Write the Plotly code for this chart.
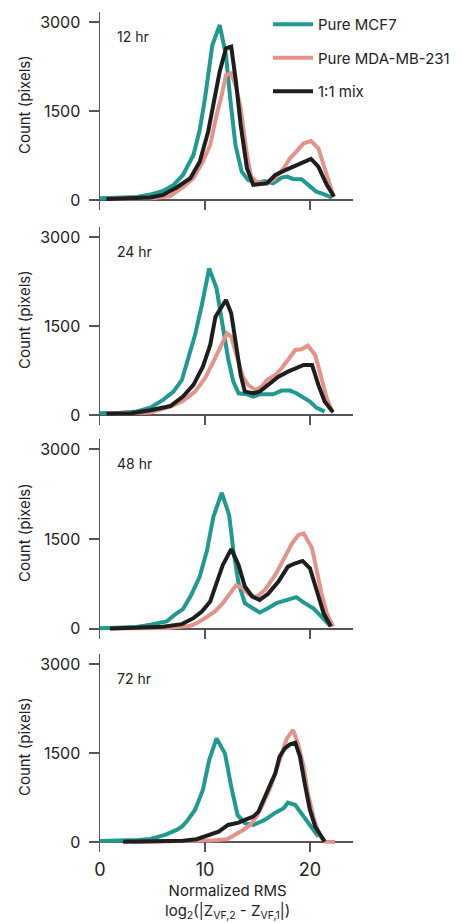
import plotly.graph_objects as go

# ---------------- data ----------------
panel_labels = ["12 hr", "24 hr", "48 hr", "72 hr"]
series_names = ["Pure MCF7", "Pure MDA-MB-231", "1:1 mix"]

mcf7_12_x = [0, 2, 3.5, 4.8, 6.0, 7.0, 7.9, 8.9, 9.5, 10.0, 10.5, 10.7, 11.4, 12.0, 12.4, 12.9, 13.5, 14.1, 14.9, 15.7, 16.5, 17.3, 17.8, 18.4, 19.2, 20.0, 20.6, 21.3, 22.1]
mcf7_12_y = [28, 35, 50, 90, 150, 250, 421, 758, 1180, 1713, 2300, 2610, 2950, 2440, 1714, 927, 477, 337, 281, 320, 281, 376, 393, 354, 348, 225, 140, 96, 39]
mda_12_x = [0.6, 3, 5, 6.7, 7.9, 8.9, 9.8, 10.5, 11.1, 11.6, 12.0, 12.5, 12.95, 13.4, 14.0, 14.4, 14.9, 15.7, 16.5, 17.5, 18.1, 18.7, 19.4, 20.1, 20.8, 21.4, 22.2]
mda_12_y = [20, 22, 30, 65, 215, 365, 645, 927, 1432, 1770, 2107, 2135, 1910, 1545, 758, 393, 309, 281, 337, 534, 702, 814, 955, 994, 871, 534, 84]
mix_12_x = [0.6, 3, 4.8, 6.0, 7.3, 8.6, 9.5, 10.3, 10.95, 11.4, 12.0, 12.5, 12.95, 13.4, 14.0, 14.6, 15.9, 16.7, 17.5, 18.4, 19.4, 20.1, 20.8, 21.6, 22.3]
mix_12_y = [17, 22, 40, 84, 210, 365, 645, 1150, 1713, 2162, 2556, 2584, 1994, 1264, 534, 253, 281, 421, 489, 562, 645, 691, 562, 253, 56]

mcf7_24_x = [0, 2, 3.5, 4.8, 6.0, 7.0, 7.8, 8.4, 9.05, 9.7, 10.4, 11.1, 11.7, 12.2, 12.7, 13.2, 14.0, 14.6, 15.2, 16.5, 17.3, 18.1, 18.7, 19.4, 20.0, 20.6, 21.4]
mcf7_24_y = [30, 35, 60, 123, 253, 393, 590, 955, 1348, 1854, 2472, 2135, 1517, 955, 562, 365, 348, 309, 348, 348, 410, 410, 365, 281, 225, 123, 56]
mda_24_x = [0.6, 3, 4.8, 6.7, 7.9, 9.05, 10.0, 10.8, 11.6, 12.1, 12.5, 13.1, 13.6, 14.1, 14.8, 15.4, 15.9, 16.7, 17.3, 17.9, 18.6, 19.2, 19.8, 20.5, 21.1, 21.6, 22.1]
mda_24_y = [20, 25, 40, 140, 236, 393, 618, 899, 1180, 1376, 1320, 955, 646, 506, 421, 477, 590, 674, 787, 927, 1095, 1107, 1168, 1011, 618, 281, 67]
mix_24_x = [0.6, 3, 4.8, 6.7, 7.9, 8.9, 9.8, 10.5, 11.0, 11.5, 12.0, 12.5, 13.0, 13.4, 13.8, 14.6, 15.2, 16.0, 17.0, 17.9, 18.7, 19.4, 20.2, 20.8, 21.4, 22.2]
mix_24_y = [20, 30, 80, 150, 309, 506, 815, 1180, 1657, 1798, 1938, 1714, 1180, 674, 393, 365, 393, 506, 646, 730, 797, 843, 843, 506, 225, 45]

mcf7_48_x = [0, 2, 3.5, 4.8, 6.35, 7.1, 7.9, 8.7, 9.5, 10.2, 10.8, 11.6, 12.3, 12.7, 13.2, 13.8, 15.2, 16.0, 16.8, 17.6, 18.7, 19.5, 20.3, 21.1, 21.9]
mcf7_48_y = [10, 15, 30, 67, 122, 233, 328, 567, 872, 1317, 1872, 2272, 1900, 1317, 762, 428, 272, 345, 428, 472, 528, 428, 345, 205, 55]
mda_48_x = [1, 4, 6.5, 8.6, 9.2, 10.0, 10.95, 11.7, 12.4, 12.95, 13.5, 14.1, 14.9, 15.7, 16.7, 17.5, 18.3, 18.9, 19.4, 20.2, 20.6, 21.1, 21.6, 22.2]
mda_48_y = [5, 8, 15, 50, 95, 178, 289, 428, 583, 722, 695, 583, 528, 650, 900, 1178, 1428, 1567, 1595, 1345, 983, 595, 262, 38]
mix_48_x = [0.95, 4, 6.0, 7.8, 8.9, 9.7, 10.5, 11.1, 11.7, 12.5, 13.2, 13.8, 14.5, 15.2, 16.0, 17.0, 17.9, 18.6, 19.3, 20.0, 20.6, 21.3, 22.0]
mix_48_y = [5, 15, 35, 78, 178, 289, 456, 762, 1067, 1330, 1067, 706, 539, 483, 583, 789, 1039, 1095, 1134, 1011, 650, 262, 38]

mcf7_72_x = [0, 2, 3.65, 4.8, 6.2, 7.3, 7.8, 8.25, 9.05, 9.8, 10.4, 11.1, 11.9, 12.5, 13.1, 13.8, 14.6, 15.7, 16.7, 17.5, 17.9, 18.6, 19.5, 20.3, 20.8]
mcf7_72_y = [15, 20, 34, 50, 118, 202, 258, 343, 539, 876, 1382, 1747, 1494, 932, 455, 315, 286, 371, 494, 568, 662, 623, 399, 202, 90]
mda_72_x = [3, 7.9, 10.5, 12.1, 12.9, 13.65, 14.3, 14.9, 15.55, 16.2, 16.8, 17.3, 17.8, 18.4, 18.9, 19.4, 19.8, 20.4, 20.9, 21.4, 22.4]
mda_72_y = [0, 5, 22, 45, 118, 202, 286, 427, 652, 905, 1213, 1494, 1747, 1887, 1635, 1269, 820, 371, 118, 5, 0]
mix_72_x = [2.2, 4.8, 7.9, 9.2, 10.2, 11.3, 12.2, 13.2, 13.8, 14.6, 15.1, 15.55, 16.2, 16.7, 17.1, 17.6, 18.1, 18.6, 19.05, 19.5, 20.0, 20.5, 20.95, 21.4]
mix_72_y = [5, 10, 20, 45, 101, 174, 286, 326, 371, 427, 511, 708, 961, 1157, 1438, 1578, 1646, 1674, 1438, 989, 539, 258, 118, 5]

x_tickvals = [0, 10, 20]
y_tickvals = [0, 1500, 3000]
y_ticktext = ["0", "1500", "3000"]

panels = [
    [(mcf7_12_x, mcf7_12_y), (mda_12_x, mda_12_y), (mix_12_x, mix_12_y)],
    [(mcf7_24_x, mcf7_24_y), (mda_24_x, mda_24_y), (mix_24_x, mix_24_y)],
    [(mcf7_48_x, mcf7_48_y), (mda_48_x, mda_48_y), (mix_48_x, mix_48_y)],
    [(mcf7_72_x, mcf7_72_y), (mda_72_x, mda_72_y), (mix_72_x, mix_72_y)],
]

# ---------------- style ----------------
W, H = 462, 923
colors = ["#1f9a90", "#e3938a", "#1e1e1e"]
axis_col = "#555555"
FONT = "Inter, Liberation Sans, Arial, sans-serif"
# plot-area pixel extents (top, bottom) per panel
panel_px = [(12, 210), (227, 425), (439, 639), (654, 852)]
x_px = (100, 353)

fig = go.Figure()
layout = dict(
    width=W, height=H,
    margin=dict(l=0, r=0, t=0, b=0, autoexpand=False),
    paper_bgcolor="white", plot_bgcolor="white",
    font=dict(family=FONT, color="#222222", size=15),
    showlegend=True,
    legend=dict(x=268 / W, y=1 - 8 / H, xanchor="left", yanchor="top",
                font=dict(size=15, family=FONT, color="#222222"),
                traceorder="grouped", tracegroupgap=11,
                bgcolor="rgba(0,0,0,0)", itemwidth=40),
)
annotations = []
for i, series in enumerate(panels):
    k = i + 1
    xa = "x" if k == 1 else f"x{k}"
    ya = "y" if k == 1 else f"y{k}"
    for j, (xs, ys) in enumerate(series):
        fig.add_trace(go.Scatter(
            x=xs, y=ys, mode="lines", xaxis=xa, yaxis=ya,
            line=dict(color=colors[j], width=4),
            name=series_names[j], legendgroup=series_names[j],
            showlegend=(i == 0), hoverinfo="skip",
        ))
    top, bot = panel_px[i]
    last = (i == len(panels) - 1)
    layout["xaxis" if k == 1 else f"xaxis{k}"] = dict(
        domain=[x_px[0] / W, x_px[1] / W], range=[0, 24.1],
        anchor=ya, showline=False, showgrid=False, zeroline=False,
        automargin=False,
        ticks="inside", ticklen=10, tickwidth=1.5, tickcolor=axis_col,
        tickvals=x_tickvals, showticklabels=last, ticklabelstandoff=5,
        tickfont=dict(size=18, family=FONT, color="#222222"),
    )
    layout["yaxis" if k == 1 else f"yaxis{k}"] = dict(
        domain=[1 - bot / H, 1 - top / H], range=[-170, 3170],
        anchor=xa, showline=True, linecolor=axis_col, linewidth=1.5,
        automargin=False,
        showgrid=False, zeroline=True, zerolinecolor=axis_col, zerolinewidth=1.5,
        ticks="outside", ticklen=10, tickwidth=1.5, tickcolor=axis_col,
        tickvals=y_tickvals, ticktext=y_ticktext, ticklabelstandoff=5,
        tickfont=dict(size=16, family=FONT, color="#222222"),
    )
    annotations.append(dict(
        text=panel_labels[i], xref=xa, yref=ya, x=1.4, y=2760,
        xanchor="left", yanchor="middle", showarrow=False,
        font=dict(size=14, family=FONT, color="#222222"),
    ))
    annotations.append(dict(
        text="Count (pixels)", xref="paper", yref=f"{ya} domain",
        x=24 / W, y=0.53, xanchor="center", yanchor="middle",
        textangle=-90, showarrow=False,
        font=dict(size=15, family=FONT, color="#222222"),
    ))

annotations.append(dict(
    text="Normalized RMS<br>log<sub>2</sub>(|Z<sub>VF,2</sub> - Z<sub>VF,1</sub>|)",
    xref="paper", yref="paper", x=227 / W, y=1 - 901 / H,
    xanchor="center", yanchor="middle", showarrow=False,
    font=dict(size=15, family=FONT, color="#222222"),
))
layout["annotations"] = annotations
fig.update_layout(**layout)
fig.write_html(
    "out.html",
    config={"displayModeBar": False, "staticPlot": True},
    post_script="document.body.style.margin='0px';document.body.style.padding='0px';"
                "document.documentElement.style.overflow='hidden';",
)
